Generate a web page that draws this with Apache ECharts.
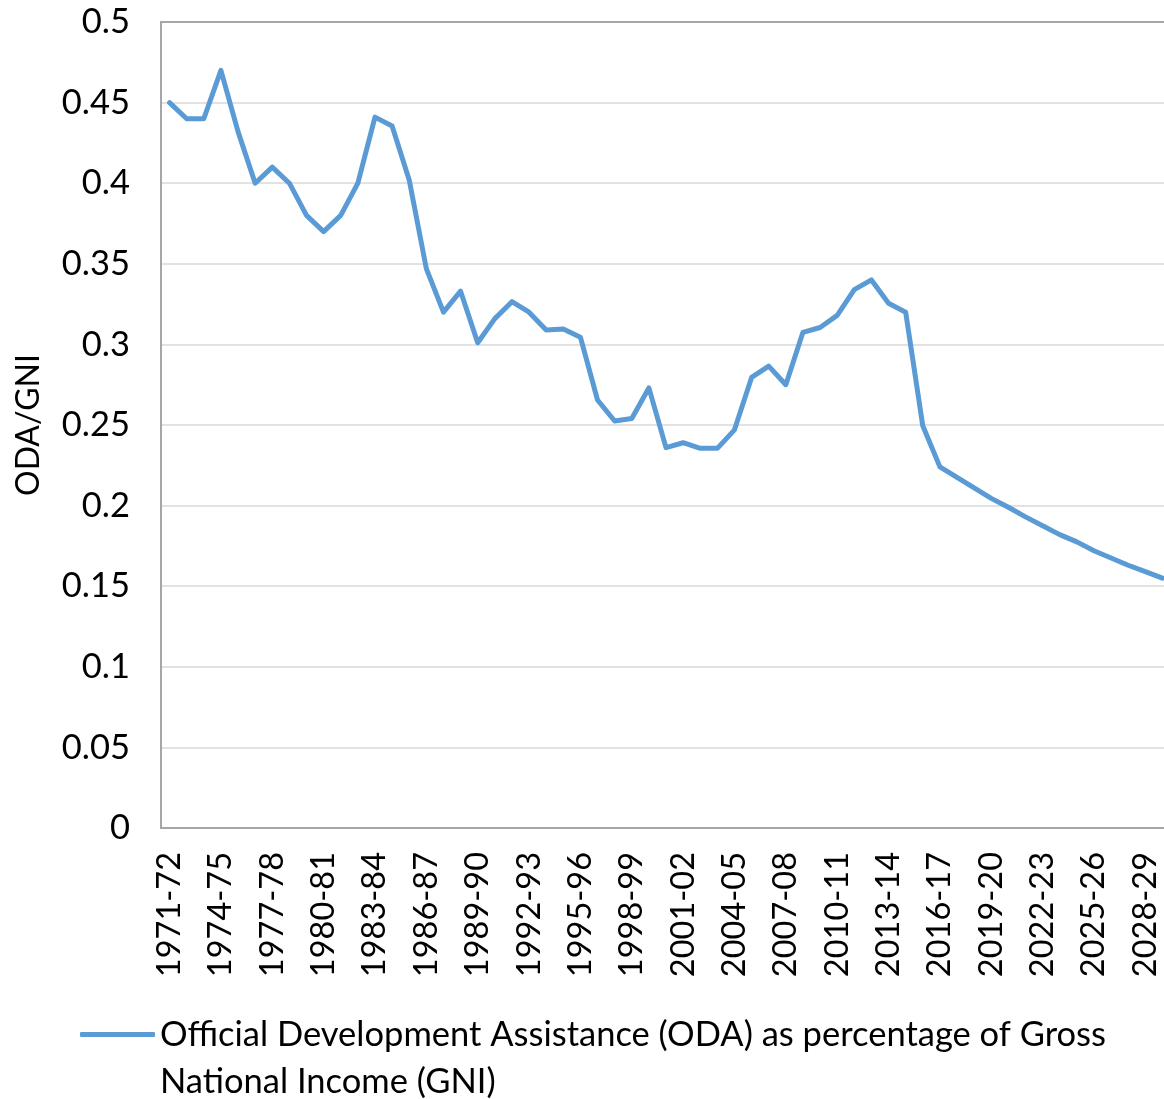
<!DOCTYPE html>
<html>
<head>
<meta charset="utf-8">
<script src="https://cdn.jsdelivr.net/npm/echarts@6/dist/echarts.min.js"></script>
<style>
html,body{margin:0;padding:0;background:#fff;overflow:hidden;}
#chart{width:1164px;height:1099px;}
</style>
</head>
<body>
<div id="chart"></div>
<script>
const categories = [
  "1971-72","1972-73","1973-74","1974-75","1975-76","1976-77","1977-78","1978-79","1979-80","1980-81",
  "1981-82","1982-83","1983-84","1984-85","1985-86","1986-87","1987-88","1988-89","1989-90","1990-91",
  "1991-92","1992-93","1993-94","1994-95","1995-96","1996-97","1997-98","1998-99","1999-00","2000-01",
  "2001-02","2002-03","2003-04","2004-05","2005-06","2006-07","2007-08","2008-09","2009-10","2010-11",
  "2011-12","2012-13","2013-14","2014-15","2015-16","2016-17","2017-18","2018-19","2019-20","2020-21",
  "2021-22","2022-23","2023-24","2024-25","2025-26","2026-27","2027-28","2028-29","2029-30"
];
const odaGni = [
  0.450,0.440,0.440,0.470,0.432,0.400,0.410,0.400,0.380,0.370,
  0.380,0.400,0.441,0.4355,0.402,0.347,0.320,0.333,0.301,0.316,
  0.3265,0.320,0.309,0.3095,0.3045,0.2655,0.2525,0.254,0.273,0.236,
  0.239,0.2355,0.2355,0.247,0.2795,0.2865,0.275,0.3075,0.3105,0.318,
  0.334,0.340,0.3255,0.320,0.2495,0.224,0.2175,0.211,0.2045,0.199,
  0.193,0.1875,0.182,0.1775,0.172,0.1675,0.163,0.159,0.155
];
const seriesName = "Official Development Assistance (ODA) as percentage of Gross National Income (GNI)";
const legendLines = ["Official Development Assistance (ODA) as percentage of Gross", "National Income (GNI)"];
const yTicks = [0, 0.05, 0.1, 0.15, 0.2, 0.25, 0.3, 0.35, 0.4, 0.45, 0.5];
const yTickLabels = ["0","0.05","0.1","0.15","0.2","0.25","0.3","0.35","0.4","0.45","0.5"];
const yAxisName = "ODA/GNI";

const FONT = "Lato";
const FS = 34.5;
const chart = echarts.init(document.getElementById('chart'), null, {renderer: 'canvas'});
chart.setOption({
  animation: false,
  backgroundColor: '#fff',
  textStyle: {fontFamily: FONT},
  grid: {
    left: 161, top: 22, bottom: 271, width: 1010,
    containLabel: false,
    outerBoundsMode: 'none',
    show: true, borderColor: '#A6A6A6', borderWidth: 2, backgroundColor: 'transparent'
  },
  legend: {
    show: true,
    left: 75,
    top: 959,
    icon: 'roundRect',
    itemWidth: 75,
    itemHeight: 5,
    itemGap: 10,
    textStyle: {fontFamily: FONT, fontSize: FS, color: '#000', lineHeight: 47},
    formatter: function () { return '\n' + legendLines.join('\n'); },
    data: [seriesName]
  },
  xAxis: {
    type: 'category',
    data: categories,
    boundaryGap: true,
    axisLine: {show: true, lineStyle: {color: '#A6A6A6', width: 2}},
    axisTick: {show: false},
    splitLine: {show: false},
    axisLabel: {
      interval: 2, rotate: 90, margin: 24,
      fontFamily: FONT, fontSize: 32.5, color: '#000'
    }
  },
  yAxis: {
    type: 'value',
    min: yTicks[0], max: yTicks[yTicks.length - 1], interval: 0.05,
    name: yAxisName,
    nameLocation: 'middle',
    nameGap: 116,
    nameRotate: 90,
    nameTextStyle: {fontFamily: FONT, fontSize: 32, color: '#000'},
    axisLine: {show: true, lineStyle: {color: '#A6A6A6', width: 2}},
    axisTick: {show: false},
    splitLine: {show: true, showMaxLine: false, lineStyle: {color: '#D9D9D9', width: 1.5}},
    axisLabel: {
      margin: 31, fontFamily: FONT, fontSize: FS, color: '#000',
      formatter: function (v) {
        const i = yTicks.findIndex(t => Math.abs(t - v) < 1e-9);
        return i >= 0 ? yTickLabels[i] : String(v);
      }
    }
  },
  series: [{
    name: seriesName,
    type: 'line',
    data: odaGni,
    showSymbol: false,
    symbol: 'none',
    smooth: false,
    lineStyle: {color: '#5B9BD5', width: 5, cap: 'round', join: 'round'},
    itemStyle: {color: '#5B9BD5'}
  }]
});
</script>
</body>
</html>
